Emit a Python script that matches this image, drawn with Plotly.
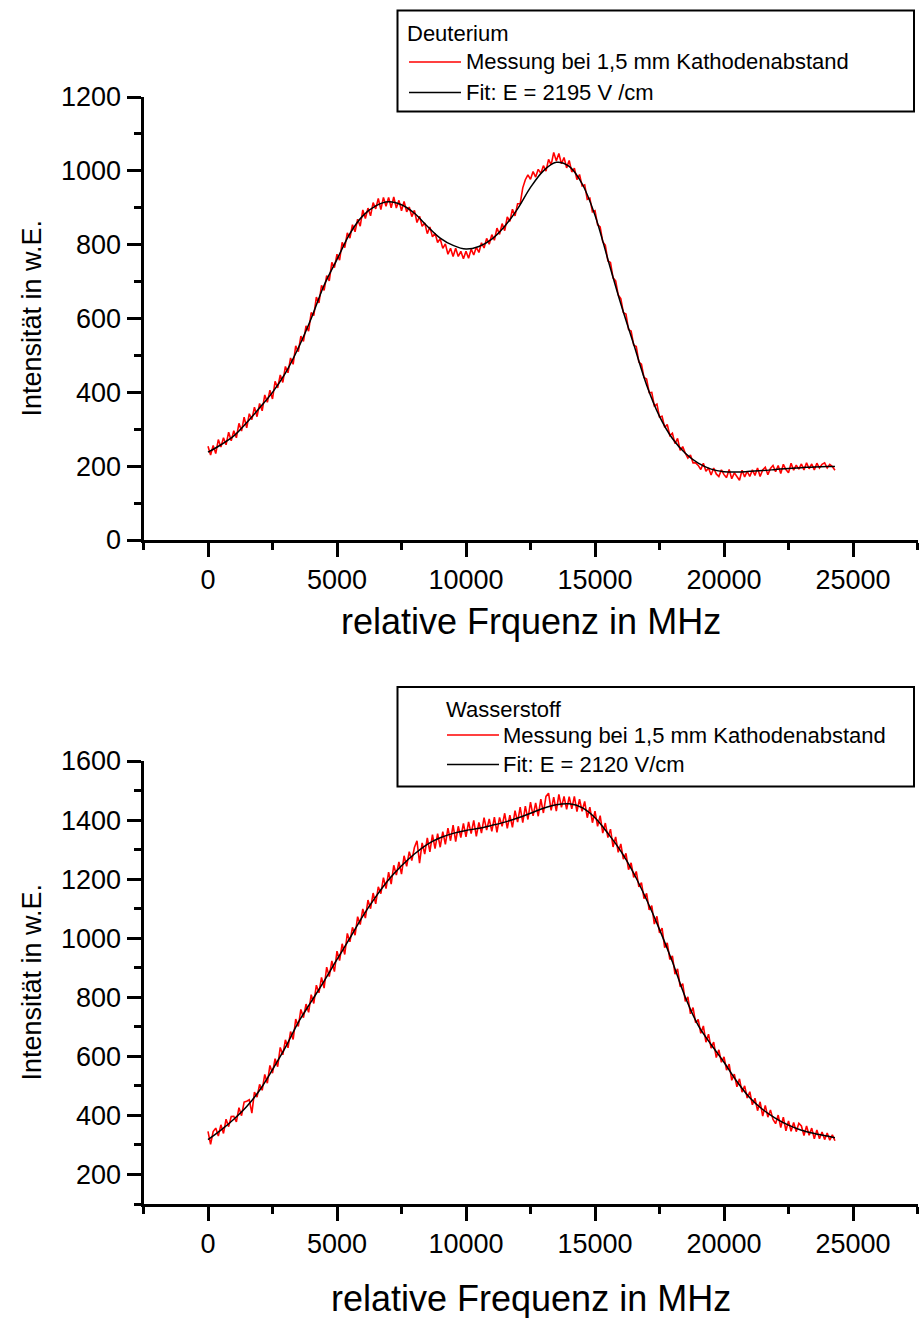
import plotly.graph_objects as go

# ---------------- data ----------------
# Fit curves (every 500 MHz, last point at 24300 MHz)
fit_freq = [0, 500, 1000, 1500, 2000, 2500, 3000, 3500, 4000, 4500,
            5000, 5500, 6000, 6500, 7000, 7500, 8000, 8500, 9000, 9500,
            10000, 10500, 11000, 11500, 12000, 12500, 13000, 13500, 14000, 14500,
            15000, 15500, 16000, 16500, 17000, 17500, 18000, 18500, 19000, 19500,
            20000, 20500, 21000, 21500, 22000, 22500, 23000, 23500, 24000, 24300]

deut_fit = [238, 258, 282, 318, 358, 400, 452, 520, 600, 690,
            760, 830, 878, 905, 916, 908, 885, 850, 818, 798,
            788, 795, 815, 850, 897, 955, 1000, 1023, 1012, 965,
            880, 760, 640, 530, 420, 335, 275, 235, 208, 192,
            185, 184, 186, 188, 191, 194, 196, 198, 199, 199]

hyd_fit = [318, 350, 387, 430, 485, 555, 630, 715, 785, 855,
           928, 1000, 1075, 1140, 1198, 1245, 1285, 1318, 1340, 1355,
           1365, 1372, 1382, 1393, 1407, 1423, 1440, 1452, 1455, 1442,
           1408, 1355, 1295, 1220, 1130, 1030, 920, 800, 705, 640,
           580, 515, 460, 420, 390, 367, 350, 339, 330, 324]

# Measurements (every 100 MHz, 0 ... 24300 MHz)
meas_freq = [i * 100 for i in range(244)]

deut_meas = [
    254, 230, 256, 234, 272, 252, 277, 258, 292, 269,
    296, 277, 316, 295, 333, 304, 342, 326, 360, 334,
    370, 350, 393, 373, 406, 382, 430, 412, 447, 427,
    470, 453, 493, 476, 526, 510, 552, 538, 580, 566,
    616, 608, 658, 642, 690, 676, 716, 702, 752, 738,
    774, 758, 806, 792, 832, 818, 854, 835, 869, 850,
    894, 871, 899, 878, 914, 897, 925, 895, 928, 904,
    928, 900, 929, 899, 920, 892, 917, 889, 902, 876,
    893, 860, 877, 850, 859, 830, 848, 821, 831, 806,
    816, 790, 802, 774, 790, 768, 790, 768, 782, 762,
    782, 763, 788, 772, 793, 779, 805, 791, 817, 801,
    827, 812, 845, 828, 857, 838, 875, 863, 896, 878,
    911, 911, 954, 976, 989, 977, 998, 983, 1004, 993,
    1014, 999, 1031, 1016, 1050, 1027, 1047, 1019, 1036, 1008,
    1028, 997, 1007, 976, 990, 959, 962, 923, 926, 889,
    892, 854, 848, 808, 798, 756, 752, 710, 702, 664,
    654, 616, 612, 570, 566, 528, 524, 482, 476, 440,
    436, 399, 400, 363, 368, 333, 335, 305, 313, 283,
    289, 261, 275, 243, 253, 235, 222, 230, 209, 209,
    202, 191, 208, 186, 195, 176, 195, 179, 172, 190,
    177, 169, 191, 166, 182, 172, 162, 189, 171, 186,
    172, 190, 175, 195, 172, 190, 197, 177, 194, 202,
    185, 202, 180, 205, 191, 182, 208, 189, 203, 192,
    206, 190, 209, 193, 206, 190, 208, 195, 205, 209,
    195, 205, 199, 189]

hyd_meas = [
    346, 302, 345, 357, 330, 368, 339, 387, 362, 396,
    397, 378, 426, 399, 445, 448, 453, 408, 479, 462,
    505, 485, 539, 509, 569, 543, 592, 565, 630, 605,
    656, 629, 684, 657, 726, 701, 759, 731, 777, 749,
    809, 779, 841, 815, 867, 831, 902, 870, 923, 887,
    956, 924, 981, 945, 1016, 988, 1037, 1010, 1073, 1046,
    1099, 1068, 1129, 1100, 1153, 1116, 1174, 1151, 1205, 1168,
    1224, 1183, 1247, 1214, 1258, 1217, 1279, 1243, 1293, 1263,
    1307, 1330, 1254, 1323, 1285, 1340, 1292, 1351, 1303, 1354,
    1308, 1361, 1318, 1373, 1330, 1383, 1327, 1379, 1341, 1389,
    1343, 1394, 1354, 1399, 1345, 1392, 1356, 1408, 1366, 1404,
    1362, 1410, 1358, 1409, 1379, 1423, 1372, 1417, 1375, 1432,
    1393, 1444, 1391, 1447, 1402, 1461, 1414, 1458, 1413, 1471,
    1424, 1480, 1491, 1433, 1478, 1430, 1487, 1443, 1480, 1436,
    1479, 1438, 1480, 1429, 1471, 1430, 1463, 1408, 1444, 1391,
    1430, 1379, 1415, 1356, 1390, 1341, 1369, 1309, 1343, 1291,
    1319, 1268, 1287, 1232, 1255, 1206, 1226, 1174, 1188, 1134,
    1152, 1096, 1110, 1048, 1074, 1018, 1034, 968, 984, 928,
    940, 878, 896, 836, 846, 786, 801, 744, 765, 714,
    725, 678, 703, 648, 675, 628, 648, 596, 622, 580,
    598, 553, 574, 519, 540, 497, 524, 479, 500, 459,
    480, 436, 458, 416, 446, 398, 434, 394, 418, 386,
    372, 401, 359, 394, 348, 381, 346, 376, 345, 373,
    364, 332, 364, 333, 357, 321, 351, 321, 344, 318,
    340, 316, 334, 314]

top_legend_title = "Deuterium"
top_fit_label = "Fit: E = 2195 V /cm"
bot_legend_title = "Wasserstoff"
bot_fit_label = "Fit: E = 2120 V/cm"
meas_label = "Messung bei 1,5 mm Kathodenabstand"
x_title_top = "relative Frquenz in MHz"
x_title_bot = "relative Frequenz in MHz"
y_title = "Intensität in w.E."

# ---------------- figure ----------------
W, H = 922, 1318
FONT = "Liberation Sans, Arial, Helvetica, sans-serif"


def px(x):
    return x / W


def py(y):
    return 1 - y / H


fig = go.Figure()

fig.add_trace(go.Scatter(x=meas_freq, y=deut_meas, mode="lines",
                         line=dict(color="#ff0000", width=1.6, simplify=False),
                         xaxis="x", yaxis="y", showlegend=False))
fig.add_trace(go.Scatter(x=fit_freq, y=deut_fit, mode="lines",
                         line=dict(color="black", width=1.5, shape="spline"),
                         xaxis="x", yaxis="y", showlegend=False))
fig.add_trace(go.Scatter(x=meas_freq, y=hyd_meas, mode="lines",
                         line=dict(color="#ff0000", width=1.6, simplify=False),
                         xaxis="x2", yaxis="y2", showlegend=False))
fig.add_trace(go.Scatter(x=fit_freq, y=hyd_fit, mode="lines",
                         line=dict(color="black", width=1.5, shape="spline"),
                         xaxis="x2", yaxis="y2", showlegend=False))

axis_common = dict(showline=True, linecolor="black", linewidth=3,
                   ticks="outside", ticklen=14, tickwidth=3, tickcolor="black",
                   showgrid=False, zeroline=False, mirror=False,
                   tickformat="d",
                   tickfont=dict(family=FONT, size=27, color="black"),
                   automargin=False)

xdom = [px(143.5), px(917.5)]

xaxis_cfg = dict(axis_common, range=[-2500, 27500], tick0=0, dtick=5000,
                 domain=xdom,
                 minor=dict(tick0=0, dtick=2500, ticks="outside", ticklen=7,
                            tickwidth=3, tickcolor="black"))

fig.update_layout(
    width=W, height=H,
    margin=dict(l=0, r=0, t=0, b=0),
    paper_bgcolor="white", plot_bgcolor="white",
    font=dict(family=FONT, color="black"),
    xaxis=dict(xaxis_cfg, anchor="y"),
    yaxis=dict(axis_common, range=[0, 1200], tick0=0, dtick=200,
               domain=[py(540), py(97)], anchor="x",
               minor=dict(tick0=0, dtick=100, ticks="outside", ticklen=7,
                          tickwidth=3, tickcolor="black")),
    xaxis2=dict(xaxis_cfg, anchor="y2"),
    yaxis2=dict(axis_common, range=[100, 1600], tick0=0, dtick=200,
                domain=[py(1204), py(761)], anchor="x2",
                minor=dict(tick0=0, dtick=100, ticks="outside", ticklen=7,
                           tickwidth=3, tickcolor="black")),
)

shapes = []
annotations = []


def legend_box(x0, y0, x1, y1, title, title_x, title_y, rows, line_x0, line_x1, text_x):
    shapes.append(dict(type="rect", xref="paper", yref="paper",
                       x0=px(x0), x1=px(x1), y0=py(y1), y1=py(y0),
                       line=dict(color="black", width=2), fillcolor="white",
                       layer="above"))
    annotations.append(dict(xref="paper", yref="paper", x=px(title_x), y=py(title_y),
                            text=title, showarrow=False, xanchor="left", yanchor="middle",
                            font=dict(family=FONT, size=22, color="black")))
    for (ly, color, label) in rows:
        shapes.append(dict(type="line", xref="paper", yref="paper",
                           x0=px(line_x0), x1=px(line_x1), y0=py(ly), y1=py(ly),
                           line=dict(color=color, width=1.5), layer="above"))
        annotations.append(dict(xref="paper", yref="paper", x=px(text_x), y=py(ly),
                                text=label, showarrow=False, xanchor="left",
                                yanchor="middle",
                                font=dict(family=FONT, size=22, color="black")))


legend_box(397.5, 10.5, 914, 111.5, top_legend_title, 405, 34,
           [(62, "#ff0000", meas_label), (92.5, "black", top_fit_label)],
           409, 461, 464)
legend_box(397.5, 687, 914, 786.5, bot_legend_title, 444, 709,
           [(735, "#ff0000", meas_label), (764.5, "black", bot_fit_label)],
           447, 499, 501)

# axis titles
annotations.append(dict(xref="paper", yref="paper", x=px(530.5), y=py(622),
                        text=x_title_top, showarrow=False, xanchor="center", yanchor="middle",
                        font=dict(family=FONT, size=36, color="black")))
annotations.append(dict(xref="paper", yref="paper", x=px(530.5), y=py(1298),
                        text=x_title_bot, showarrow=False, xanchor="center", yanchor="middle",
                        font=dict(family=FONT, size=36, color="black")))
annotations.append(dict(xref="paper", yref="paper", x=px(31), y=py(318.5),
                        text=y_title, showarrow=False, xanchor="center", yanchor="middle",
                        textangle=-90, font=dict(family=FONT, size=27, color="black")))
annotations.append(dict(xref="paper", yref="paper", x=px(31), y=py(982.5),
                        text=y_title, showarrow=False, xanchor="center", yanchor="middle",
                        textangle=-90, font=dict(family=FONT, size=27, color="black")))

fig.update_layout(shapes=shapes, annotations=annotations)

fig.write_html("out.html", config={"displayModeBar": False},
               post_script="document.body.style.margin='0px';document.body.style.overflow='hidden';")
